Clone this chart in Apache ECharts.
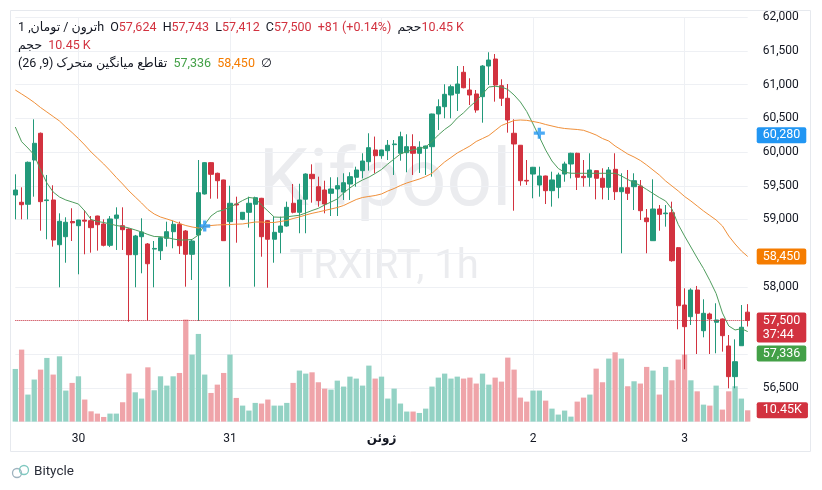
<!DOCTYPE html>
<html><head><meta charset="utf-8">
<script src="https://cdn.jsdelivr.net/npm/echarts@6/dist/echarts.min.js"></script>
<style>html,body{margin:0;padding:0;background:#fff}#c{width:822px;height:490px}</style>
</head><body><div id="c"></div>
<script>
// ---- data ----
const dayTickIndex = [10, 34, 58, 82, 106];
const dayTickLabels = ['30', '31', 'ژوئن', '2', '3'];
const startDay = 29, startHour = 14, candleCount = 117;

const openP = [59363,59255,59225,59882,60279,59280,59289,58625,58744,58970,
58907,58990,58982,59051,58933,58616,59017,58907,58858,58477,
58744,58636,58560,58536,58720,58818,58928,58829,58483,58769,
59378,59843,59685,59586,58967,59230,59002,59106,59225,59314,
58982,58706,58809,58903,59240,59106,59300,59670,59486,59437,
59388,59452,59407,59526,59626,59724,59857,60031,59946,60020,
60110,59982,59991,60080,59982,60055,60080,60565,60673,60847,
60872,61184,60921,60862,60822,61277,61381,60985,60798,60279,
60101,59580,59674,59511,59645,59427,59477,59674,59823,59982,
59640,59626,59724,59611,59477,59744,59412,59471,59486,59496,
59022,58685,59155,59085,59100,58581,57730,57557,57953,57349,
57597,57474,57523,57122,56667,57126,57624];
const closeP = [59437,59219,59848,60130,59264,59290,58695,58973,58958,58950,
58992,58975,58878,58922,58616,59007,59066,58848,58477,58755,
58814,58343,58570,58729,58818,58928,58610,58483,58680,59397,
59843,59670,59575,58685,59240,59215,59106,59240,59323,58744,
58706,58809,58903,59180,59106,59289,59674,59605,59279,59229,
59452,59501,59545,59635,59734,59867,60065,59946,60031,60101,
60120,60228,60080,59982,60071,60090,60565,60673,60857,60970,
61010,60955,60847,60624,61277,61366,60995,60798,60476,60120,
59575,59570,59774,59645,59427,59586,59660,59823,59982,59626,
59620,59734,59611,59477,59734,59412,59471,59388,59575,59130,
58967,59155,59076,59095,58388,57720,57409,57953,57607,57607,
57523,57508,57275,56667,56889,57400,57500];
const lowP = [59002,59002,59002,59338,58833,58706,58596,57993,58358,58680,
58186,58483,58507,58537,58600,58590,58547,58547,57483,57993,
58201,57497,57993,58398,58596,58572,58487,58002,58102,57493,
59370,59308,59308,58680,58002,58655,58990,58878,58002,58447,
57987,58358,58498,58893,59091,58795,58795,59249,59190,59091,
59051,59051,59289,59289,59486,59610,59724,59685,59900,59882,
59660,59872,59700,59660,59690,59660,59635,60328,60501,60501,
60610,60946,60698,60584,60436,60995,60748,60684,60288,59130,
59501,59512,59314,59338,59229,59190,59314,59560,59610,59437,
59486,59486,59298,59298,59289,59289,58498,59289,59140,58992,
58498,58680,58833,58893,58373,57370,56776,57434,57003,57251,
57003,57014,57038,56494,56494,57126,57412];
const highP = [59670,59477,59860,60486,60290,59660,59507,59091,59032,59166,
58995,59140,59051,59055,59002,59050,59180,59180,58870,58770,
59017,58650,58680,58744,58967,58982,58967,58843,58705,59882,
59850,59850,59694,59590,59500,59338,59110,59338,59338,59320,
58990,59041,59041,59264,59526,59530,59684,59818,59635,59575,
59626,59626,59685,59700,59783,59982,60279,60230,60035,60179,
60179,60302,60264,60264,60160,60095,60570,60783,61006,61000,
61277,61277,61095,60921,61290,61481,61455,61080,61010,60486,
60105,59882,59780,59783,59650,59709,59694,59857,59990,59990,
59882,59982,59730,59759,59778,59982,59685,59734,59685,59585,
59155,59596,59214,59214,59264,58590,57978,57978,58013,57815,
57617,57756,57530,57285,57221,57730,57743];
const volumeK = [48.7,66.6,25.0,38.9,48.1,58.9,43.5,60.4,28.7,35.8,
41.9,20.4,9.5,7.4,4.3,7.4,7.4,17.9,44.4,27.1,
21.3,50.2,29.0,41.9,33.3,41.9,45.0,94.4,62.0,81.1,
43.5,26.5,34.2,45.0,62.0,21.9,14.8,10.2,17.3,16.7,
20.4,14.8,14.8,17.3,35.8,47.2,44.4,45.6,36.4,30.5,
29.6,37.9,32.4,41.6,39.8,33.3,51.8,39.8,41.6,21.3,
30.5,16.7,9.3,9.3,8.0,12.0,32.4,40.7,44.4,39.8,
41.6,39.8,40.7,35.2,44.4,34.2,40.7,37.0,59.2,48.1,
22.2,18.5,28.7,28.7,19.4,12.0,6.5,10.2,4.6,18.5,
22.2,25.0,49.0,36.4,58.3,64.1,58.3,32.7,37.3,35.2,
50.6,47.2,25.0,50.6,38.2,57.4,62.0,38.2,28.0,15.7,
14.8,33.3,11.1,28.0,32.7,21.3,10.45];
const maFast = [60372,60154,60060,59957,59734,59541,59407,59333,59289,59259,
59229,59126,59000,58970,58955,58933,58910,58896,58873,58844,
58814,58777,58747,58744,58732,58710,58695,58695,58703,58769,
58925,59051,59118,59140,59185,59229,59281,59326,59314,59214,
59126,59036,59032,59039,59051,59062,59096,59133,59165,59214,
59259,59304,59393,59467,59534,59586,59627,59682,59741,59823,
59897,59971,60008,60034,60053,60075,60157,60253,60335,60402,
60506,60583,60676,60758,60862,60966,60976,60966,60929,60847,
60743,60602,60417,60224,60030,59867,59756,59700,59686,59685,
59685,59685,59685,59685,59685,59685,59645,59593,59548,59504,
59445,59385,59326,59274,59155,58925,58754,58591,58428,58272,
58094,57901,57612,57419,57360,57379,57336];
const maSlow = [60921,60862,60802,60736,60661,60595,60528,60461,60372,60290,
60201,60105,60001,59912,59823,59726,59623,59526,59423,59333,
59244,59148,59081,59036,59007,58977,58940,58910,58888,58873,
58895,58910,58918,58922,58925,58930,58933,58947,58962,58962,
58955,58955,58970,58985,59014,59037,59066,59091,59111,59133,
59155,59177,59207,59252,59296,59326,59341,59355,59378,59422,
59459,59504,59541,59571,59600,59637,59685,59771,59853,59919,
59986,60038,60090,60157,60201,60246,60320,60394,60431,60469,
60476,60471,60454,60436,60409,60387,60365,60350,60342,60335,
60323,60290,60253,60201,60164,60090,60031,59971,59927,59875,
59808,59734,59660,59571,59497,59423,59341,59274,59200,59126,
59059,58992,58903,58754,58636,58532,58450];
const crossIndex = [30, 83];
const crossValue = [58903, 60280];
const lastPrice = 57500, lastVolumeK = 10.45, crossLabelValue = 60280;
const priceMin = 56000, priceMax = 62000, priceStep = 500;

// ---- build ----
const categories = [];
for (let i = 0; i < candleCount; i++) {
  const h = startHour + i;
  const d = startDay + Math.floor(h / 24);
  categories.push(d + ' ' + String(h % 24).padStart(2, '0') + ':00');
}
const tickMap = {};
dayTickIndex.forEach((ix, k) => tickMap[ix] = dayTickLabels[k]);
const isTick = (idx) => tickMap[idx] !== undefined;

const UP = '#22997a', DOWN = '#d2323f';
const VUP = '#93d2c4', VDOWN = '#efa4a9';
const FONT = 'Roboto, "Noto Sans", "DejaVu Sans", sans-serif';
const fmt = v => v.toLocaleString('en-US');

const candleData = openP.map((o, i) => [o, closeP[i], lowP[i], highP[i]]);
const volData = volumeK.map((v, i) => ({ value: v, itemStyle: { color: closeP[i] >= openP[i] ? VUP : VDOWN } }));
const crossData = crossIndex.map((ix, k) => [ix, crossValue[k]]);

const boxLabel = (text, bg, extra) => Object.assign({
  show: true, position: 'end', distance: 9, formatter: text, color: '#fff',
  backgroundColor: bg, padding: [1, 6, 1, 6], borderRadius: 2, fontSize: 12.5,
  lineHeight: 14, fontFamily: FONT
}, extra || {});
const hidden = { color: 'rgba(0,0,0,0)', width: 0 };
const richHead = {
  t: { fontSize: 12.5, fill: '#131722', fontFamily: FONT },
  r: { fontSize: 12.5, fill: '#d2323f', fontFamily: FONT },
  g: { fontSize: 12.5, fill: '#43a047', fontFamily: FONT },
  o: { fontSize: 12.5, fill: '#f57c00', fontFamily: FONT },
  s: { fontSize: 12.5, fontFamily: FONT }
};

const chart = echarts.init(document.getElementById('c'), null, { renderer: 'canvas' });
chart.setOption({
  animation: false,
  backgroundColor: '#ffffff',
  textStyle: { fontFamily: FONT },
  grid: { left: 15.3, right: 74.3, top: 17.3, height: 404.3, containLabel: false },
  xAxis: {
    type: 'category', data: categories, boundaryGap: false,
    axisLine: { show: false }, axisTick: { show: false },
    axisLabel: {
      interval: (idx) => isTick(idx), margin: 11, color: '#131722', fontSize: 12, fontFamily: FONT,
      formatter: (v, idx) => idx === 58 ? '{b|' + tickMap[idx] + '}' : (tickMap[idx] || ''),
      rich: { b: { fontWeight: 'bold', fontSize: 12, color: '#131722', fontFamily: FONT } }
    },
    splitLine: { show: true, interval: (idx) => isTick(idx), lineStyle: { color: '#eef0f4', width: 1 } }
  },
  yAxis: [{
    type: 'value', position: 'right', min: priceMin, max: priceMax, interval: priceStep, scale: true,
    axisLine: { show: false }, axisTick: { show: false },
    axisLabel: {
      margin: 15, color: '#131722', fontSize: 12, fontFamily: FONT,
      formatter: v => ([56000, 57000, 57500, 58500].indexOf(v) >= 0 ? '' : fmt(v))
    },
    splitLine: { lineStyle: { color: '#eef0f4', width: 1 } }
  }, {
    type: 'value', min: 0, max: 374, show: false, splitLine: { show: false }
  }],
  graphic: [
    { type: 'rect', shape: { x: 10.5, y: 10.5, width: 800, height: 441 }, style: { fill: 'none', stroke: '#e6e9ee', lineWidth: 1 }, z: -5, silent: true },
    { type: 'text', x: 385, y: 185, z: -1, silent: true, style: { text: 'Kifpool', fontSize: 80, fontFamily: FONT, fill: '#ebecef', align: 'center', verticalAlign: 'middle' } },
    { type: 'text', x: 384, y: 268, z: -1, silent: true, style: { text: 'TRXIRT, 1h', fontSize: 40, fontFamily: FONT, fill: '#ebecef', align: 'center', verticalAlign: 'middle' } },
    { type: 'text', x: 18, y: 28, z: 10, silent: true, style: {
        text: '{t|1 ,}{t|تومان}{t| / }{t|ترون}{t|h}{s|  }{t|O}{r|57,624}{s|  }{t|H}{r|57,743}{s|  }{t|L}{r|57,412}{s|  }{t|C}{r|57,500}{s|  }{r|+81 (+0.14%)}{s|  }{t|حجم}{r|10.45 K}',
        verticalAlign: 'middle', fontFamily: FONT, rich: richHead } },
    { type: 'text', x: 18, y: 46, z: 10, silent: true, style: {
        text: '{t|حجم}{s|  }{r|10.45 K}', verticalAlign: 'middle', fontFamily: FONT, rich: richHead } },
    { type: 'text', x: 18, y: 64, z: 10, silent: true, style: {
        text: '{t|(26 ,9)}{s| }{t|تقاطع میانگین متحرک}{s|  }{g|57,336}{s|  }{o|58,450}{s|  }{t|∅}',
        verticalAlign: 'middle', fontFamily: FONT, rich: richHead } },
    { type: 'circle', shape: { cx: 17, cy: 473, r: 4.5 }, style: { fill: 'none', stroke: '#9fb3bf', lineWidth: 1.3 }, silent: true },
    { type: 'circle', shape: { cx: 24, cy: 470, r: 4.5 }, style: { fill: 'none', stroke: '#7fc8c0', lineWidth: 1.3 }, silent: true },
    { type: 'text', x: 34, y: 472, silent: true, style: { text: 'Bitycle', fontSize: 13.5, fontFamily: FONT, fill: '#2a2e39', verticalAlign: 'middle' } }
  ],
  series: [
    {
      name: 'vol', type: 'bar', xAxisIndex: 0, yAxisIndex: 1, data: volData, barWidth: 5.3,
      clip: false, z: 2, silent: true,
      markLine: { symbol: 'none', silent: true, animation: false,
        data: [{ yAxis: lastVolumeK, lineStyle: hidden, label: boxLabel(fmt(lastVolumeK) + 'K', DOWN) }] }
    },
    {
      name: 'price', type: 'candlestick', data: candleData, barWidth: 4.7, clip: false, z: 3, silent: true,
      itemStyle: { color: UP, color0: DOWN, borderColor: UP, borderColor0: DOWN, borderWidth: 1 },
      markLine: { symbol: 'none', silent: true, animation: false,
        data: [{ yAxis: lastPrice, lineStyle: { color: DOWN, type: 'dotted', width: 1 },
          label: boxLabel(fmt(lastPrice) + '\n37:44', DOWN, { offset: [0, 7] }) }] }
    },
    {
      name: 'fast', type: 'line', data: maFast, symbol: 'none', smooth: false, z: 4, silent: true,
      lineStyle: { color: '#4f9d5e', width: 1 },
      markLine: { symbol: 'none', silent: true, animation: false,
        data: [{ yAxis: maFast[maFast.length - 1], lineStyle: hidden,
          label: boxLabel(fmt(maFast[maFast.length - 1]), '#43a047', { offset: [0, 22] }) }] }
    },
    {
      name: 'slow', type: 'line', data: maSlow, symbol: 'none', smooth: false, z: 4, silent: true,
      lineStyle: { color: '#f0903a', width: 1 },
      markLine: { symbol: 'none', silent: true, animation: false,
        data: [{ yAxis: maSlow[maSlow.length - 1], lineStyle: hidden,
          label: boxLabel(fmt(maSlow[maSlow.length - 1]), '#f57c00') }] }
    },
    {
      name: 'cross', type: 'scatter', data: crossData, z: 6, silent: true,
      symbol: 'path://M3.5,0 L6.5,0 L6.5,3.5 L10,3.5 L10,6.5 L6.5,6.5 L6.5,10 L3.5,10 L3.5,6.5 L0,6.5 L0,3.5 L3.5,3.5 Z',
      symbolSize: 11, itemStyle: { color: '#2196f3' },
      markLine: { symbol: 'none', silent: true, animation: false,
        data: [{ yAxis: crossLabelValue, lineStyle: hidden, label: boxLabel(fmt(crossLabelValue), '#2196f3', { offset: [0, 2] }) }] }
    }
  ]
});
</script>
</body></html>
